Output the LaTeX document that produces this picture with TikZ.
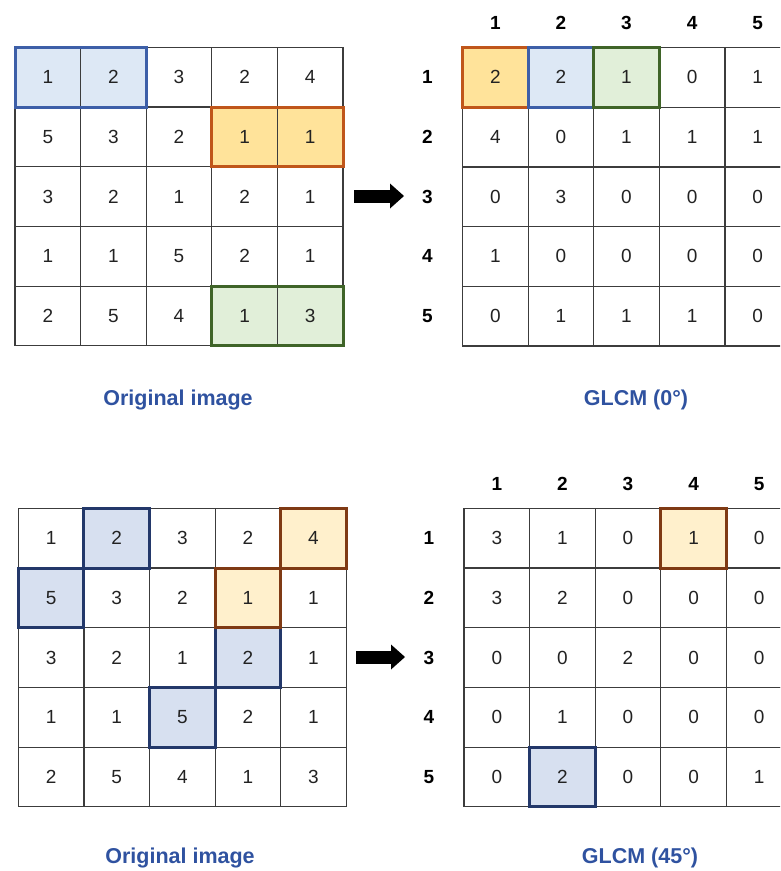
\documentclass[tikz,border=0pt]{standalone}
\usepackage{fontspec}
\setmainfont{Liberation Sans}
\usetikzlibrary{arrows.meta,backgrounds}

\definecolor{gridc}{HTML}{3C3C3C}
\definecolor{numc}{HTML}{222222}
\definecolor{capc}{HTML}{2F52A0}
\definecolor{fillblue}{HTML}{DDE8F5}
\definecolor{fillorange}{HTML}{FFE39A}
\definecolor{fillgreen}{HTML}{E1EFD9}
\definecolor{fillbluedeep}{HTML}{D7E0F0}
\definecolor{fillorangepale}{HTML}{FFF0CC}
\definecolor{edgeblue}{HTML}{3D5FA8}
\definecolor{edgeorange}{HTML}{C0561A}
\definecolor{edgegreen}{HTML}{3F6428}
\definecolor{edgebluedeep}{HTML}{23386A}
\definecolor{edgebrown}{HTML}{7F3A14}

% cell size of every 5x5 grid
\def\cw{65.6}
\def\ch{59.7}

% #1 name, #2 left x, #3 top y, #4 rows of values
\newcommand\valuegrid[4]{%
  \foreach \rowvals [count=\r] in {#4} {
    \foreach \v [count=\c] in \rowvals {
      \node[cell] (#1-\r-\c) at ({#2+(\c-1)*\cw},{#3+(\r-1)*\ch}) {\v};
    }
  }%
}

% #1 name, #2 left x of grid, #3 top y of grid
\newcommand\gridlabels[3]{%
  \foreach \i in {1,...,5} {
    \node[hdr] (#1-col\i) at ({#2+(\i-0.5)*\cw},{#3-24.5}) {\i};
    \node[hdr] (#1-row\i) at ({#2-35},{#3+(\i-0.5)*\ch}) {\i};
  }%
}

\begin{document}
\begin{tikzpicture}[x=1pt,y=-1pt,
  cell/.style={draw=gridc, line width=1.2pt, minimum width=\cw pt,
    minimum height=\ch pt, inner sep=0pt, outer sep=0pt, anchor=north west,
    text=numc, font=\fontsize{19}{21}\selectfont},
  hdr/.style={inner sep=0pt, text=black, font=\fontsize{19}{21}\selectfont\bfseries},
  caption/.style={inner sep=0pt, text=capc, font=\fontsize{21.5}{24}\selectfont\bfseries},
  hl/.style={line width=3pt, line join=miter},
  bigarrow/.style={line width=13pt, -{Triangle[length=14pt,width=25pt,line width=0pt]}}]

\useasboundingbox (0,0) rectangle (780,871);
\clip (0,0) rectangle (780,871);

% top row: original image and GLCM at 0 degrees
\valuegrid{TL}{15}{47.3}{{1,2,3,2,4},{5,3,2,1,1},{3,2,1,2,1},{1,1,5,2,1},{2,5,4,1,3}}
\valuegrid{TR}{462.5}{47.5}{{2,2,1,0,1},{4,0,1,1,1},{0,3,0,0,0},{1,0,0,0,0},{0,1,1,1,0}}
\gridlabels{TR}{462.5}{47.5}

% bottom row: original image and GLCM at 45 degrees
\valuegrid{BL}{18.3}{508.3}{{1,2,3,2,4},{5,3,2,1,1},{3,2,1,2,1},{1,1,5,2,1},{2,5,4,1,3}}
\valuegrid{BR}{464}{508.3}{{3,1,0,1,0},{3,2,0,0,0},{0,0,2,0,0},{0,1,0,0,0},{0,2,0,0,1}}
\gridlabels{BR}{464}{508.3}

% highlight fills under the numbers
\begin{scope}[on background layer]
  \fill[fillblue]   (TL-1-1.north west) rectangle (TL-1-2.south east);
  \fill[fillorange] (TL-2-4.north west) rectangle (TL-2-5.south east);
  \fill[fillgreen]  (TL-5-4.north west) rectangle (TL-5-5.south east);
  \fill[fillorange] (TR-1-1.north west) rectangle (TR-1-1.south east);
  \fill[fillblue]   (TR-1-2.north west) rectangle (TR-1-2.south east);
  \fill[fillgreen]  (TR-1-3.north west) rectangle (TR-1-3.south east);
  \foreach \p in {BL-1-2,BL-2-1,BL-3-4,BL-4-3,BR-5-2}
    \fill[fillbluedeep] (\p.north west) rectangle (\p.south east);
  \foreach \p in {BL-1-5,BL-2-4,BR-1-4}
    \fill[fillorangepale] (\p.north west) rectangle (\p.south east);
\end{scope}

% highlight outlines
\draw[hl, edgeblue]   (TL-1-1.north west) rectangle (TL-1-2.south east);
\draw[hl, edgeorange] (TL-2-4.north west) rectangle (TL-2-5.south east);
\draw[hl, edgegreen]  (TL-5-4.north west) rectangle (TL-5-5.south east);
\draw[hl, edgeorange] (TR-1-1.north west) rectangle (TR-1-1.south east);
\draw[hl, edgeblue]   (TR-1-2.north west) rectangle (TR-1-2.south east);
\draw[hl, edgegreen]  (TR-1-3.north west) rectangle (TR-1-3.south east);
\foreach \p in {BL-1-2,BL-2-1,BL-3-4,BL-4-3,BR-5-2}
  \draw[hl, edgebluedeep] (\p.north west) rectangle (\p.south east);
\foreach \p in {BL-1-5,BL-2-4,BR-1-4}
  \draw[hl, edgebrown] (\p.north west) rectangle (\p.south east);

% arrows from image to matrix
\coordinate (arrTopS) at (354,196);
\coordinate (arrTopE) at (404,196);
\draw[bigarrow] (arrTopS) -- (arrTopE);
\coordinate (arrBotS) at (356,657);
\coordinate (arrBotE) at (405,657);
\draw[bigarrow] (arrBotS) -- (arrBotE);

% captions
\node[caption] (capTL) at (178,400) {Original image};
\node[caption] (capTR) at (636,400) {GLCM (0°)};
\node[caption] (capBL) at (180,858) {Original image};
\node[caption] (capBR) at (640,858) {GLCM (45°)};
\end{tikzpicture}
\end{document}
